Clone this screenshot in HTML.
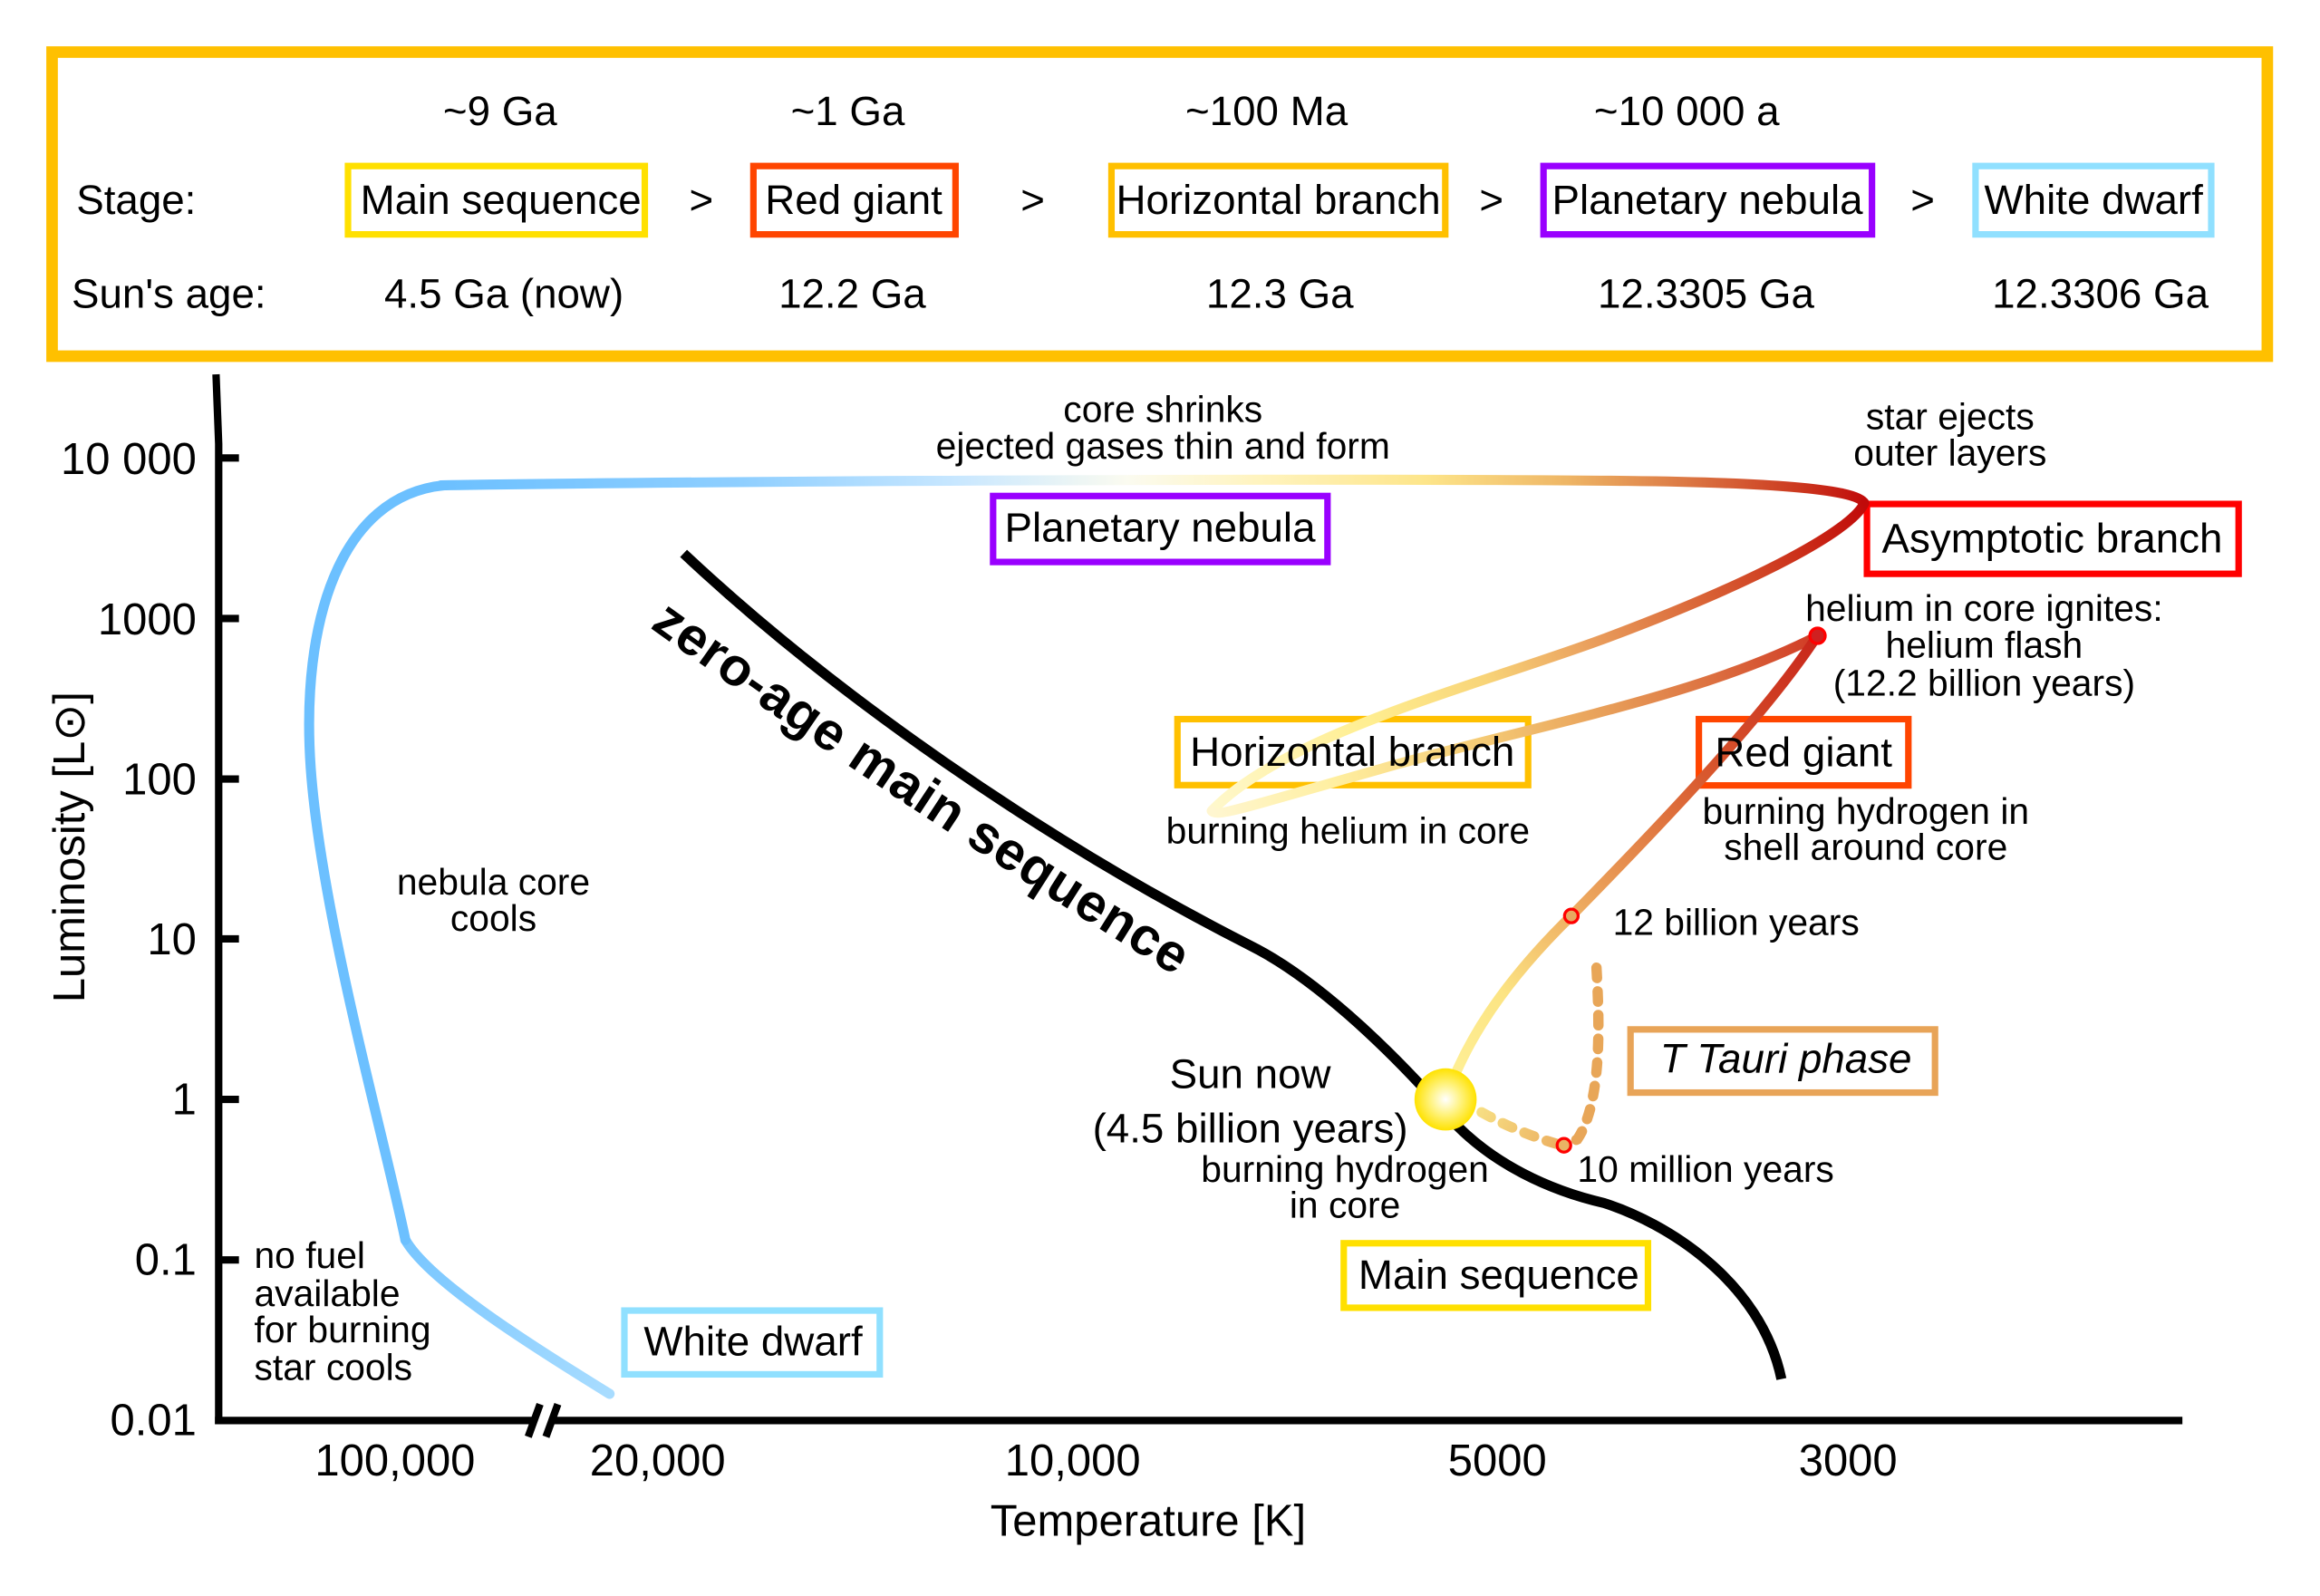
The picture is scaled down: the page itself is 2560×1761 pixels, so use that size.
<!DOCTYPE html>
<html><head><meta charset="utf-8"><style>
html,body{margin:0;padding:0;background:#fff}
svg{display:block}
text{font-family:"Liberation Sans","DejaVu Sans",Arial,sans-serif;fill:#000}
</style></head><body>
<svg xmlns="http://www.w3.org/2000/svg" width="2560" height="1761" viewBox="0 0 1568 1078.6" preserveAspectRatio="none">
<defs>
<linearGradient id="gTop" gradientUnits="userSpaceOnUse" x1="300" y1="0" x2="1262" y2="0">
<stop offset="0" stop-color="#6CC0FF"/><stop offset="0.21" stop-color="#8FCFFF"/><stop offset="0.36" stop-color="#C8E7FF"/><stop offset="0.48" stop-color="#FBFBF0"/><stop offset="0.57" stop-color="#FFF4C0"/><stop offset="0.69" stop-color="#FDE58A"/><stop offset="0.79" stop-color="#EEB565"/><stop offset="0.87" stop-color="#DC7A45"/><stop offset="0.95" stop-color="#CC3A20"/><stop offset="1" stop-color="#C00A0A"/>
</linearGradient>
<linearGradient id="gAGB" gradientUnits="userSpaceOnUse" x1="819" y1="548" x2="1260" y2="340">
<stop offset="0" stop-color="#FFF8CC"/><stop offset="0.25" stop-color="#FFEE90"/><stop offset="0.42" stop-color="#F8D478"/><stop offset="0.56" stop-color="#EBA460"/><stop offset="0.75" stop-color="#D86034"/><stop offset="0.92" stop-color="#C82414"/><stop offset="1" stop-color="#C00A0A"/>
</linearGradient>
<linearGradient id="gHB" gradientUnits="userSpaceOnUse" x1="819" y1="548" x2="1228" y2="430">
<stop offset="0" stop-color="#FFF6D0"/><stop offset="0.2" stop-color="#FFEFA0"/><stop offset="0.44" stop-color="#F5CB75"/><stop offset="0.64" stop-color="#E8A05A"/><stop offset="0.82" stop-color="#DC7040"/><stop offset="1" stop-color="#D03A25"/>
</linearGradient>
<linearGradient id="gRGB" gradientUnits="userSpaceOnUse" x1="977" y1="743" x2="1228" y2="430">
<stop offset="0" stop-color="#FFF29A"/><stop offset="0.2" stop-color="#FCE483"/><stop offset="0.38" stop-color="#EEAE62"/><stop offset="0.7" stop-color="#D8582E"/><stop offset="1" stop-color="#C8261A"/>
</linearGradient>
<linearGradient id="gBlueLow" gradientUnits="userSpaceOnUse" x1="274" y1="838" x2="412" y2="942">
<stop offset="0" stop-color="#78C6FF"/><stop offset="1" stop-color="#A8DCFF"/>
</linearGradient>
<linearGradient id="gTT" gradientUnits="userSpaceOnUse" x1="1052" y1="773" x2="995" y2="748">
<stop offset="0" stop-color="#ECB262"/><stop offset="1" stop-color="#F8E286"/>
</linearGradient>
<radialGradient id="gSun" cx="0.5" cy="0.5" r="0.5">
<stop offset="0" stop-color="#FFFFFF"/><stop offset="0.45" stop-color="#FFF48A"/><stop offset="1" stop-color="#FFE200"/>
</radialGradient>
<path id="zp" d="M 439,424 Q 600,540 800,663"/>
</defs>

<!-- top box -->
<rect x="35.2" y="35.2" width="1497.2" height="205.5" fill="none" stroke="#FFC000" stroke-width="7.8"/>
<g font-size="28" text-anchor="middle">
<text x="338" y="84.5">~9 Ga</text>
<text x="573" y="84.5">~1 Ga</text>
<text x="856" y="84.5">~100 Ma</text>
<text x="1140" y="84.5">~10 000 a</text>
<text x="474" y="144.7">&gt;</text>
<text x="698" y="144.7">&gt;</text>
<text x="1008" y="144.7">&gt;</text>
<text x="1299.5" y="144.7">&gt;</text>
<text x="338.5" y="144.7">Main sequence</text>
<text x="577" y="144.7">Red giant</text>
<text x="864" y="144.7">Horizontal branch</text>
<text x="1154" y="144.7">Planetary nebula</text>
<text x="1415" y="144.7">White dwarf</text>
<text x="340.6" y="207.8">4.5 Ga (now)</text>
<text x="576" y="207.8">12.2 Ga</text>
<text x="865" y="207.8">12.3 Ga</text>
<text x="1153" y="207.8">12.3305 Ga</text>
<text x="1419.5" y="207.8">12.3306 Ga</text>
</g>
<text x="51.6" y="144.7" font-size="28">Stage:</text>
<text x="48.4" y="207.8" font-size="28">Sun's age:</text>
<g fill="none" stroke-width="4.4">
<rect x="235.2" y="112.2" width="200.6" height="46.2" stroke="#FFE000"/>
<rect x="509.2" y="112.2" width="136.6" height="46.2" stroke="#FF4500"/>
<rect x="751.2" y="112.2" width="225.6" height="46.2" stroke="#FFC000"/>
<rect x="1043.2" y="112.2" width="222" height="46.2" stroke="#9900FF"/>
<rect x="1335.2" y="112.2" width="159.3" height="46.2" stroke="#90E0FF"/>
</g>

<!-- axes -->
<g stroke="#000" stroke-width="5" fill="none">
<path d="M 146,253 L 147.8,300 L 147.8,962.5"/>
<line x1="145.3" y1="960" x2="361" y2="960"/>
<line x1="373" y1="960" x2="1475" y2="960"/>
<line x1="357" y1="971" x2="365" y2="949"/>
<line x1="369" y1="971" x2="377" y2="949"/>
<line x1="147.8" y1="309.5" x2="161.5" y2="309.5"/>
<line x1="147.8" y1="418" x2="161.5" y2="418"/>
<line x1="147.8" y1="526.5" x2="161.5" y2="526.5"/>
<line x1="147.8" y1="634.5" x2="161.5" y2="634.5"/>
<line x1="147.8" y1="743" x2="161.5" y2="743"/>
<line x1="147.8" y1="851.5" x2="161.5" y2="851.5"/>
</g>
<g font-size="30" text-anchor="end">
<text x="132.8" y="320.3">10 000</text>
<text x="132.8" y="428.7">1000</text>
<text x="132.8" y="537">100</text>
<text x="132.8" y="645">10</text>
<text x="132.8" y="753">1</text>
<text x="132.8" y="861.6">0.1</text>
<text x="132.8" y="970">0.01</text>
</g>
<g font-size="30" text-anchor="middle">
<text x="267" y="997">100,000</text>
<text x="444.5" y="997">20,000</text>
<text x="725" y="997">10,000</text>
<text x="1012" y="997">5000</text>
<text x="1249" y="997">3000</text>
<text x="776" y="1038">Temperature [K]</text>
<text transform="translate(57,572.5) rotate(-90)" x="0" y="0">Luminosity [L⊙]</text>
</g>

<!-- chart boxes -->
<g fill="none" stroke-width="4.4">
<rect x="671.2" y="335.2" width="226" height="44.6" stroke="#9900FF"/>
<rect x="795.8" y="486" width="237" height="44.6" stroke="#FFC000"/>
<rect x="1148.2" y="486" width="141.6" height="44.8" stroke="#FF4500"/>
<rect x="1261.8" y="340.6" width="251.2" height="47.2" stroke="#FF0000"/>
<rect x="1102" y="695.7" width="205.8" height="42.7" stroke="#E8A458"/>
<rect x="908.2" y="840.2" width="205.6" height="43.6" stroke="#FFE000"/>
<rect x="422" y="885.7" width="172.6" height="43.1" stroke="#90E0FF"/>
</g>

<!-- ZAMS -->
<path d="M 462,374 C 562,468 705,568 845,639 C 885,659 935,703 985,761 C 1010,786 1045,804 1084,813 C 1125,826 1190,865 1204,932" fill="none" stroke="#000" stroke-width="6.8"/>

<!-- white dwarf / nebula path -->
<g fill="none" stroke-linecap="round" stroke-linejoin="round" stroke-width="6.8">
<path d="M 274,838 C 290,866 360,910 412,942" stroke="url(#gBlueLow)"/>
<path d="M 274,838 C 260,770 217,618 210,519 C 203,420 230,335 300,328" stroke="#6CC0FF"/>
<path d="M 298,328 C 500,325 900,323 1100,325 C 1190,326 1255,330 1260,340" stroke="url(#gTop)"/>
<path d="M 1260,340 C 1252,358 1190,392 1086,431 C 1000,463 870,495 819,548" stroke="url(#gAGB)"/>
<path d="M 819,548 C 822,553 850,543 946,516 C 1040,490 1150,470 1228,430" stroke="url(#gHB)"/>
<path d="M 977,743 C 990,705 1015,665 1062,619 C 1110,570 1190,488 1228,430" stroke="url(#gRGB)"/>
</g>
<!-- T Tauri dashed -->
<g fill="none" stroke-width="7" stroke-linecap="round" stroke-dasharray="7 9">
<path d="M 1079,654 C 1081,690 1083,745 1066,770 L 1058,774" stroke="#E8A658"/>
<path d="M 1052,773 C 1035,768 1015,760 995,748" stroke="url(#gTT)"/>
</g>
<!-- dots -->
<circle cx="1062" cy="619" r="4.6" fill="#E8A860" stroke="#FF0000" stroke-width="2"/>
<circle cx="1057" cy="774" r="4.6" fill="#EAB464" stroke="#FF0000" stroke-width="2"/>
<circle cx="1228.4" cy="429.7" r="5.2" fill="#D02020" stroke="#FF0000" stroke-width="2"/>
<!-- sun -->
<circle cx="977" cy="743" r="21" fill="url(#gSun)"/>

<!-- ZAMS label -->
<text font-size="36" font-weight="bold" letter-spacing="0.4"><textPath href="#zp">zero-age main sequence</textPath></text>

<!-- chart box labels -->
<g font-size="28" text-anchor="middle">
<text x="784" y="366">Planetary nebula</text>
<text x="914" y="517.6">Horizontal branch</text>
<text x="1219" y="518">Red giant</text>
<text x="1387" y="373.4">Asymptotic branch</text>
<text x="1207" y="724.8" font-style="italic">T Tauri phase</text>
<text x="1013" y="871">Main sequence</text>
<text x="509" y="916">White dwarf</text>
<text x="845" y="735.3">Sun now</text>
<text x="845" y="772">(4.5 billion years)</text>
</g>

<!-- annotations -->
<g font-size="25" text-anchor="middle">
<text x="786" y="285">core shrinks</text>
<text x="786" y="310">ejected gases thin and form</text>
<text x="1318" y="290">star ejects</text>
<text x="1318" y="314.5">outer layers</text>
<text x="1341" y="419.5">helium in core ignites:</text>
<text x="1341" y="444.5">helium flash</text>
<text x="1341" y="470">(12.2 billion years)</text>
<text x="911" y="570">burning helium in core</text>
<text x="1261" y="556.7">burning hydrogen in</text>
<text x="1261" y="581">shell around core</text>
<text x="909" y="798.6">burning hydrogen</text>
<text x="909" y="823">in core</text>
<text x="333.5" y="604.5">nebula core</text>
<text x="333.5" y="629">cools</text>
</g>
<g font-size="25">
<text x="1090" y="631.7">12 billion years</text>
<text x="1066" y="798.6">10 million years</text>
<text x="171.8" y="857">no fuel</text>
<text x="171.8" y="882.5">available</text>
<text x="171.8" y="907">for burning</text>
<text x="171.8" y="932.6">star cools</text>
</g>
</svg>
</body></html>
